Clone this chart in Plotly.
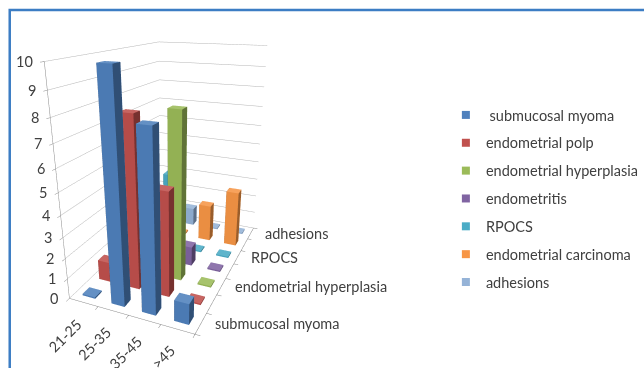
import plotly.graph_objects as go

# ---- chart data -------------------------------------------------------------
categories = ["21-25", "25-35", "35-45", ">45"]
series_names = [" submucosal myoma", "endometrial polp", "endometrial hyperplasia",
                "endometritis", "RPOCS", "endometrial carcinoma", "adhesions"]
submucosal_myoma = [0, 10, 8, 1]
endometrial_polp = [1, 8, 5, 0]
endometrial_hyperplasia = [0, 1, 8, 0]
endometritis = [0, 0, 1, 0]
rpocs = [0, 4, 0, 0]
endometrial_carcinoma = [0, 0, 2, 3]
adhesions = [0, 1, 0, 0]
depth_labels = ["submucosal myoma", "", "endometrial hyperplasia", "",
                "RPOCS", "", "adhesions"]
value_ticks = list(range(0, 11))
colors = ["#4F81BD", "#C0504D", "#9BBB59", "#8064A2", "#4BACC6", "#F79646", "#95B3D7"]

series_values = [submucosal_myoma, endometrial_polp, endometrial_hyperplasia,
                 endometritis, rpocs, endometrial_carcinoma, adhesions]

FONT = "Lato"
FSIZE = 14.5
TEXT = "#404040"
AXIS = "#868686"


def shade(hex_color, f):
    h = hex_color.lstrip("#")
    r, g, b = (int(h[i:i + 2], 16) for i in (0, 2, 4))
    if f < 1:
        r, g, b = (int(c * f) for c in (r, g, b))
    else:
        t = f - 1
        r, g, b = (int(c + (255 - c) * t) for c in (r, g, b))
    return f"rgb({r},{g},{b})"


def add_box(acc, cx, cy, h, color, wx=0.22, wy=0.2):
    """Append one 3-D column (8 vertices, 12 triangles) to the accumulator."""
    x0, x1, y0, y1 = cx - wx, cx + wx, cy - wy, cy + wy
    z0, z1 = 0.0, max(h, 0.07)
    base = len(acc["x"])
    for (x, y, z) in [(x0, y0, z0), (x1, y0, z0), (x1, y1, z0), (x0, y1, z0),
                      (x0, y0, z1), (x1, y0, z1), (x1, y1, z1), (x0, y1, z1)]:
        acc["x"].append(x)
        acc["y"].append(y)
        acc["z"].append(z)
    front, side, top = shade(color, 0.95), shade(color, 0.62), shade(color, 1.12)
    tris = [((0, 1, 2), front), ((0, 2, 3), front),      # bottom
            ((4, 5, 6), top), ((4, 6, 7), top),          # top
            ((0, 1, 5), front), ((0, 5, 4), front),      # front
            ((3, 2, 6), front), ((3, 6, 7), front),      # back
            ((0, 3, 7), side), ((0, 7, 4), side),        # left
            ((1, 2, 6), side), ((1, 6, 5), side)]        # right
    for (a, b, c), col in tris:
        acc["i"].append(base + a)
        acc["j"].append(base + b)
        acc["k"].append(base + c)
        acc["fc"].append(col)


fig = go.Figure()

for s_idx, (name, vals, col) in enumerate(zip(series_names, series_values, colors)):
    acc = {"x": [], "y": [], "z": [], "i": [], "j": [], "k": [], "fc": []}
    for c_idx, v in enumerate(vals):
        add_box(acc, c_idx, s_idx, v, col)
    fig.add_trace(go.Mesh3d(
        x=acc["x"], y=acc["y"], z=acc["z"], i=acc["i"], j=acc["j"], k=acc["k"],
        facecolor=acc["fc"], flatshading=True, showlegend=False, hoverinfo="skip",
        lighting=dict(ambient=1, diffuse=0, specular=0, roughness=1, fresnel=0),
    ))

# legend entries
for s_idx, (name, col) in enumerate(zip(series_names, colors)):
    fig.add_trace(go.Scatter(
        x=[None], y=[None], mode="markers", name=name, legendgroup=f"g{s_idx}",
        marker=dict(symbol="square", size=8, color=col),
        xaxis="x", yaxis="y", hoverinfo="skip",
    ))

label_font = dict(family=FONT, size=FSIZE, color=TEXT)
annotations = []
for c_idx, cat in enumerate(categories):
    annotations.append(dict(
        x=c_idx, y=-0.5, z=0, text=cat, showarrow=False, textangle=-45,
        xanchor="right", yanchor="top", xshift=4, yshift=-10, font=label_font))
for s_idx, lab in enumerate(depth_labels):
    if lab:
        annotations.append(dict(
            x=3.5, y=s_idx, z=0, text=lab, showarrow=False,
            xanchor="left", yanchor="middle", xshift=12, font=label_font))
for v in value_ticks:
    annotations.append(dict(
        x=-0.5, y=-0.5, z=v, text=str(v), showarrow=False,
        xanchor="right", yanchor="middle", xshift=-9, font=label_font))

common_axis = dict(showspikes=False, zeroline=False, title=dict(text=""),
                   showbackground=True, backgroundcolor="white",
                   showline=True, linecolor=AXIS, linewidth=1,
                   ticks="outside", tickcolor=AXIS, ticklen=4,
                   showticklabels=False)

fig.update_layout(
    width=644, height=368,
    margin=dict(l=0, r=0, t=0, b=0),
    paper_bgcolor="white", plot_bgcolor="white",
    font=dict(family=FONT, size=FSIZE, color=TEXT),
    xaxis=dict(visible=False, domain=[0.99, 1]),
    yaxis=dict(visible=False, domain=[0.99, 1]),
    legend=dict(x=0.71, y=0.731, xanchor="left", yanchor="top",
                traceorder="grouped", tracegroupgap=6,
                font=dict(family=FONT, size=FSIZE, color=TEXT),
                bgcolor="rgba(0,0,0,0)"),
    scene=dict(
        domain=dict(x=[0.027, 0.527], y=[0, 1]),
        aspectmode="manual", aspectratio=dict(x=0.85, y=1.4, z=1.46),
        camera=dict(eye=dict(x=1.10, y=-2.60, z=1.0), up=dict(x=0, y=0, z=1),
                    center=dict(x=0, y=0, z=-0.14),
                    projection=dict(type="perspective")),
        xaxis=dict(range=[-0.5, 3.5], tickvals=[-0.5, 0.5, 1.5, 2.5, 3.5],
                   showgrid=False, **common_axis),
        yaxis=dict(range=[-0.5, 6.5], tickvals=[v - 0.5 for v in range(8)],
                   showgrid=False, **common_axis),
        zaxis=dict(range=[0, 10], tickvals=value_ticks,
                   showgrid=True, gridcolor="#B5B5B5", gridwidth=1, **common_axis),
        annotations=annotations,
    ),
    shapes=[dict(type="rect", xref="paper", yref="paper", x0=0.0155, x1=1.2,
                 y0=-0.2, y1=0.973, line=dict(color="#3C7DC4", width=2.5),
                 fillcolor="rgba(0,0,0,0)")],
)

fig.write_html("out.html", config={"displayModeBar": False})
